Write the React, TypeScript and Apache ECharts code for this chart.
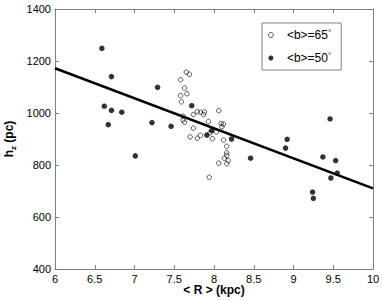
import React, { useEffect, useRef } from "react";
import * as echarts from "echarts";

const openR = [7.65, 7.69, 7.58, 7.63, 7.66, 7.58, 7.59, 8.06, 7.79, 7.83, 7.88, 7.87, 7.74, 7.61, 7.61, 7.63, 7.93, 8.09, 8.12, 8.10, 7.74, 8.03, 7.95, 7.83, 7.79, 7.70, 7.98, 8.12, 8.16, 8.16, 8.16, 8.13, 8.18, 8.06, 8.16, 7.94];
const openH = [1157, 1149, 1128, 1096, 1074, 1067, 1043, 1009, 1005, 1003, 1004, 994, 994, 988, 973, 964, 967, 960, 957, 947, 942, 927, 924, 914, 903, 908, 901, 896, 872, 847, 837, 826, 817, 807, 805, 753];

const filledR = [6.59, 6.71, 6.62, 6.71, 6.84, 6.67, 7.01, 7.29, 7.22, 7.46, 7.72, 7.97, 7.91, 8.22, 8.46, 8.92, 8.90, 9.46, 9.37, 9.53, 9.55, 9.47, 9.24, 9.25];
const filledH = [1249, 1140, 1026, 1010, 1003, 955, 835, 1099, 963, 949, 1028, 932, 915, 900, 826, 899, 865, 977, 831, 817, 769, 750, 696, 672];

const fitR = [6, 10];
const fitH = [1172, 710];

const openName = "<b>=65°";
const filledName = "<b>=50°";

const FONT = "Liberation Sans, Arial, Helvetica, sans-serif";
const AXIS_GREY = "#808080";

export default function App() {
  const ref = useRef<HTMLDivElement>(null);
  useEffect(() => {
    if (!ref.current) return;
    const chart = echarts.init(ref.current, null, { renderer: "svg" });
    const tickStyle = { show: true, inside: true, length: 4, lineStyle: { color: AXIS_GREY, width: 1 } };
    const lineStyle = { show: true, lineStyle: { color: AXIS_GREY, width: 1 } };
    chart.setOption({
      animation: false,
      backgroundColor: "#ffffff",
      textStyle: { fontFamily: FONT },
      grid: { left: 55, right: 9, top: 9, bottom: 32, containLabel: false, outerBoundsMode: "none" },
      legend: {
        left: 262,
        top: 23,
        orient: "vertical",
        backgroundColor: "#ffffff",
        borderColor: AXIS_GREY,
        borderWidth: 1,
        borderRadius: 0,
        padding: [5, 10, 5, 6],
        itemGap: 9,
        itemWidth: 22,
        itemHeight: 5,
        data: [
          { name: openName, icon: "circle", itemStyle: { color: "transparent", borderColor: "#000", borderWidth: 0.8 } },
          { name: filledName, icon: "circle", itemStyle: { color: "#000" } },
        ],
        formatter: (n: string) => n.replace("°", "{sup|°}"),
        textStyle: {
          fontFamily: FONT,
          fontSize: 12,
          color: "#000",
          lineHeight: 14,
          rich: {
            sup: { fontFamily: FONT, fontSize: 8, verticalAlign: "top", lineHeight: 14, color: "#000" },
          },
        },
      },
      xAxis: [
        {
          type: "value",
          min: 6,
          max: 10,
          interval: 0.5,
          position: "bottom",
          axisLine: lineStyle,
          axisTick: tickStyle,
          splitLine: { show: false },
          axisLabel: { color: "#000", fontSize: 11, margin: 4, fontFamily: FONT },
          name: "< R > (kpc)",
          nameLocation: "middle",
          nameGap: 15,
          nameMoveOverlap: false,
          nameTextStyle: { color: "#000", fontSize: 12, fontWeight: "bold", fontFamily: FONT, verticalAlign: "top" },
        },
        {
          type: "value",
          min: 6,
          max: 10,
          interval: 0.5,
          position: "top",
          axisLine: lineStyle,
          axisTick: tickStyle,
          splitLine: { show: false },
          axisLabel: { show: false },
        },
      ],
      yAxis: [
        {
          type: "value",
          min: 400,
          max: 1400,
          interval: 200,
          position: "left",
          axisLine: lineStyle,
          axisTick: tickStyle,
          splitLine: { show: false },
          axisLabel: { color: "#000", fontSize: 11, margin: 4, fontFamily: FONT, formatter: (v: number) => String(v) },
          name: "{b|h}{sub|z}{b| (pc)}",
          nameLocation: "middle",
          nameRotate: 90,
          nameGap: 38,
          nameMoveOverlap: false,
          nameTextStyle: {
            color: "#000",
            fontFamily: FONT,
            rich: {
              b: { fontSize: 12, fontWeight: "bold", fontFamily: FONT, color: "#000", lineHeight: 16, verticalAlign: "middle" },
              sub: { fontSize: 8, fontWeight: "bold", fontFamily: FONT, color: "#000", lineHeight: 8, verticalAlign: "bottom" },
            },
          },
        },
        {
          type: "value",
          min: 400,
          max: 1400,
          interval: 200,
          position: "right",
          axisLine: lineStyle,
          axisTick: tickStyle,
          splitLine: { show: false },
          axisLabel: { show: false },
        },
      ],
      series: [
        {
          name: openName,
          type: "scatter",
          xAxisIndex: 0,
          yAxisIndex: 0,
          symbol: "circle",
          symbolSize: 4.5,
          itemStyle: { color: "transparent", borderColor: "#000", borderWidth: 0.8 },
          data: openR.map((r, i) => [r, openH[i]]),
          z: 2,
        },
        {
          name: filledName,
          type: "scatter",
          xAxisIndex: 0,
          yAxisIndex: 0,
          symbol: "circle",
          symbolSize: 5.5,
          itemStyle: { color: "#000" },
          data: filledR.map((r, i) => [r, filledH[i]]),
          z: 3,
        },
        {
          name: "fit",
          type: "line",
          xAxisIndex: 0,
          yAxisIndex: 0,
          showSymbol: false,
          symbol: "none",
          lineStyle: { color: "#000", width: 2.5 },
          data: fitR.map((r, i) => [r, fitH[i]]),
          z: 4,
        },
      ],
    });
    return () => chart.dispose();
  }, []);
  return <div ref={ref} style={{ width: 382, height: 301, position: "absolute", left: 0, top: 0 }} />;
}
